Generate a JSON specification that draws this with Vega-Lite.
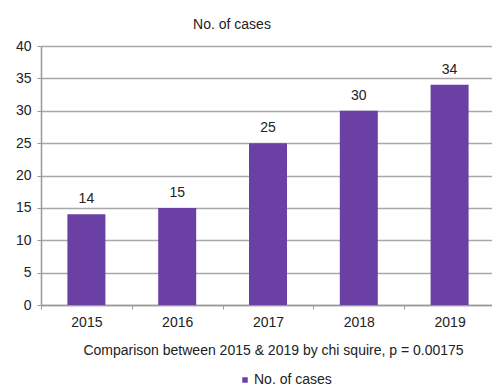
{
  "$schema": "https://vega.github.io/schema/vega-lite/v6.json",
  "width": 450,
  "height": 259,
  "autosize": "none",
  "padding": {"left": 41, "top": 46, "right": 1, "bottom": 83},
  "background": "white",
  "title": {"text": "No. of cases", "fontSize": 14, "font": "Liberation Sans", "fontWeight": "normal", "color": "#222222", "anchor": "middle", "dx": -34, "offset": 7},
  "data": {"values": [
    {"year": "2015", "cases": 14, "series": "No. of cases"},
    {"year": "2016", "cases": 15, "series": "No. of cases"},
    {"year": "2017", "cases": 25, "series": "No. of cases"},
    {"year": "2018", "cases": 30, "series": "No. of cases"},
    {"year": "2019", "cases": 34, "series": "No. of cases"}
  ]},
  "config": {
    "view": {"stroke": null},
    "font": "Liberation Sans"
  },
  "encoding": {
    "x": {"field": "year", "type": "nominal", "sort": null,
      "scale": {"paddingInner": 0, "paddingOuter": 0, "range": [0, 454]},
      "axis": {"title": "Comparison between 2015 & 2019 by chi squire, p = 0.00175", "titleFontSize": 14, "titleFontWeight": "normal", "titleColor": "#222222", "titlePadding": 14, "titleX": 232, "labelAngle": 0, "labelFontSize": 14, "labelColor": "#222222", "labelPadding": 6, "tickBand": "extent", "tickSize": 4, "tickColor": "#999999", "domainColor": "#999999", "domainWidth": 1.5}},
    "y": {"field": "cases", "type": "quantitative",
      "scale": {"domain": [0, 40], "nice": false},
      "axis": {"title": null, "tickCount": 8, "tickMinStep": 5, "labelOverlap": false, "labelFontSize": 14, "labelColor": "#222222", "labelPadding": 6, "tickSize": 4, "tickColor": "#999999", "domainColor": "#999999", "domainWidth": 1.5, "gridColor": "#a8a8a8", "gridWidth": 1.5}}
  },
  "layer": [
    {
      "mark": {"type": "bar", "width": 38, "color": {"gradient": "linear", "x1": 0, "y1": 0, "x2": 0, "y2": 1, "stops": [{"offset": 0, "color": "#7a4cb4"}, {"offset": 1, "color": "#5e3696"}]}},
      "encoding": {
        "color": {"field": "series", "type": "nominal", "scale": {"range": ["#6a40a4"]},
          "legend": {"title": null, "orient": "none", "legendX": 197, "legendY": 327, "symbolType": "square", "symbolSize": 30, "labelFontSize": 14, "labelColor": "#222222", "labelOffset": 2}}
      }
    },
    {
      "mark": {"type": "text", "dy": -15, "fontSize": 14, "color": "#222222"},
      "encoding": {
        "text": {"field": "cases", "type": "quantitative"}
      }
    }
  ]
}
